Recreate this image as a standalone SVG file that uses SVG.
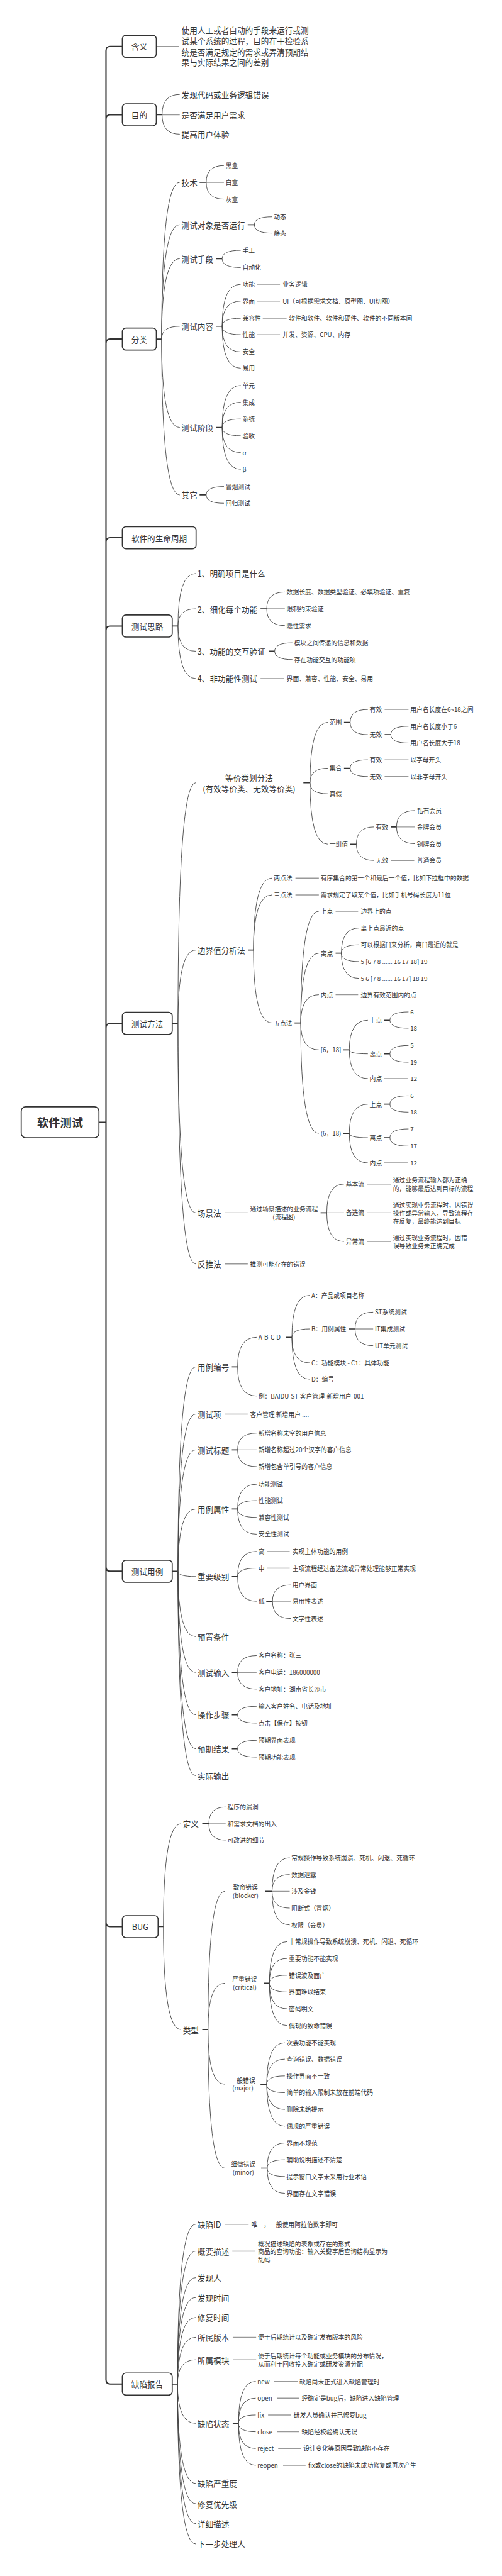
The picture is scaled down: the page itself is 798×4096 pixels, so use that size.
<svg xmlns="http://www.w3.org/2000/svg" width="798" height="4096" viewBox="0 0 798 4096">
<style>
.a{font-family:"Noto Sans CJK SC","Liberation Sans",sans-serif;fill:#333;dominant-baseline:central}
.f18{font-size:18px}
.f14{font-size:14px}
.m{text-anchor:middle}
.tr{fill:none;stroke:#333;stroke-width:3;stroke-linecap:round}
.st{stroke:#333;stroke-width:2.4}
.cv{fill:none;stroke:#444;stroke-width:1.3}
.gl{stroke:#999;stroke-width:2}
.bx{fill:#fff;stroke:#333;stroke-width:2.4}
</style>
<rect width="798" height="4096" fill="#fff"/>
<g transform="scale(0.702)">
<g id="connectors">
<path class="tr" d="M222 2542H240M240 2542V115Q240 105 250 105H277M240 2542V270Q240 260 250 260H277M240 2542V778Q240 768 250 768H277M240 2542V1228Q240 1218 250 1218H277M240 2542V1428Q240 1418 250 1418H277M240 2542V2328Q240 2318 250 2318H277M240 2542V3549Q240 3559 250 3559H277M240 2542V4354Q240 4364 250 4364H277M240 2542V5390Q240 5400 250 5400H277"/>
<path class="st" d="M354 260H367M354 768H366M452 413H467M561 509H576M490 586H503M490 739H503M490 968H503M452 1121H467M390 1418H403M590 1379H604M609 1475H622M390 2318H403M687 1773H702M779 1636H793M871 1664H885M779 1740H793M793 1912H807M885 1873H898M562 2152H574M667 2317H681M760 2159H773M777 2378H791M869 2311H883M869 2387H883M777 2567H791M869 2501H883M869 2577H883M726 2747H740M390 3559H403M525 3096H538M647 3029H661M790 3010H804M525 3284H538M525 3418H538M525 3571H538M603 3627H617M525 3788H538M525 3884H538M525 3961H538M358 4364H370M458 4131H473M458 4597H471M601 4284H616M597 4492H610M590 4721H604M591 4911H605M390 5400H402M527 5489H540"/>
<path class="gl" d="M354 105H406M367 260H407M467 413H507M582 644H634M582 682H634M595 721H649M582 758H634M604 1379H645M590 1537H643M871 1607H925M871 1721H925M871 1759H925M898 1873H940M886 1949H938M669 1989H722M669 2027H722M760 2064H811M760 2253H811M869 2443H923M869 2634H923M509 2747H561M740 2747H779M831 2682H885M831 2747H885M831 2812H885M509 2863H561M804 3010H845M509 3203H561M538 3284H581M604 3514H656M604 3552H656M617 3627H658M538 3788H581M473 4131H511M616 4284H656M510 5038H563M526 5099H578M527 5294H580M527 5345H580M620 5394H674M627 5432H678M607 5470H659M627 5508H678M630 5546H681M641 5584H692"/>
<path class="cv" d="M367 260Q367 214 407 214M367 260Q367 304 407 304
M366 768Q366 413 407 413M366 768Q366 509 407 509M366 768Q366 586 407 586M366 768Q366 739 407 739M366 768Q366 968 407 968M366 768Q366 1121 407 1121
M467 413Q467 375 507 375M467 413Q467 451 507 451
M576 509Q576 491 616 491M576 509Q576 528 616 528
M503 586Q503 567 545 567M503 586Q503 606 545 606
M503 739Q503 644 545 644M503 739Q503 682 545 682M503 739Q503 721 545 721M503 739Q503 758 545 758M503 739Q503 797 545 797M503 739Q503 834 545 834
M503 968Q503 873 545 873M503 968Q503 911 545 911M503 968Q503 949 545 949M503 968Q503 987 545 987M503 968Q503 1025 545 1025M503 968Q503 1063 545 1063
M467 1121Q467 1102 507 1102M467 1121Q467 1140 507 1140
M403 1418Q403 1299 443 1299M403 1418Q403 1379 443 1379M403 1418Q403 1475 443 1475M403 1418Q403 1537 443 1537
M604 1379Q604 1341 645 1341M604 1379Q604 1417 645 1417
M622 1475Q622 1456 662 1456M622 1475Q622 1494 662 1494
M403 2318Q403 1773 443 1773M403 2318Q403 2152 443 2152M403 2318Q403 2747 443 2747M403 2318Q403 2863 443 2863
M702 1773Q702 1636 742 1636M702 1773Q702 1740 742 1740M702 1773Q702 1798 742 1798M702 1773Q702 1912 742 1912
M793 1636Q793 1607 833 1607M793 1636Q793 1664 833 1664
M885 1664Q885 1645 925 1645M885 1664Q885 1683 925 1683
M793 1740Q793 1721 833 1721M793 1740Q793 1759 833 1759
M807 1912Q807 1873 847 1873M807 1912Q807 1949 847 1949
M898 1873Q898 1836 940 1836M898 1873Q898 1911 940 1911
M574 2152Q574 1989 616 1989M574 2152Q574 2027 616 2027M574 2152Q574 2317 616 2317
M681 2317Q681 2064 722 2064M681 2317Q681 2159 722 2159M681 2317Q681 2253 722 2253M681 2317Q681 2378 722 2378M681 2317Q681 2567 722 2567
M773 2159Q773 2102 813 2102M773 2159Q773 2140 813 2140M773 2159Q773 2178 813 2178M773 2159Q773 2216 813 2216
M791 2378Q791 2311 833 2311M791 2378Q791 2387 833 2387M791 2378Q791 2443 833 2443
M883 2311Q883 2292 925 2292M883 2311Q883 2329 925 2329M883 2387Q883 2368 925 2368M883 2387Q883 2406 925 2406
M791 2567Q791 2501 833 2501M791 2567Q791 2577 833 2577M791 2567Q791 2634 833 2634
M883 2501Q883 2482 925 2482M883 2501Q883 2519 925 2519M883 2577Q883 2557 925 2557M883 2577Q883 2596 925 2596
M740 2747Q740 2682 779 2682M740 2747Q740 2812 779 2812
M403 3559Q403 3096 443 3096M403 3559Q403 3203 443 3203M403 3559Q403 3284 443 3284M403 3559Q403 3418 443 3418M403 3559Q403 3571 443 3571M403 3559Q403 3707 443 3707M403 3559Q403 3788 443 3788M403 3559Q403 3884 443 3884M403 3559Q403 3961 443 3961M403 3559Q403 4022 443 4022
M538 3096Q538 3029 581 3029M538 3096Q538 3162 581 3162
M661 3029Q661 2934 701 2934M661 3029Q661 3010 701 3010M661 3029Q661 3087 701 3087M661 3029Q661 3124 701 3124
M804 3010Q804 2972 845 2972M804 3010Q804 3048 845 3048
M538 3284Q538 3246 581 3246M538 3284Q538 3322 581 3322
M538 3418Q538 3362 581 3362M538 3418Q538 3399 581 3399M538 3418Q538 3437 581 3437M538 3418Q538 3475 581 3475
M538 3571Q538 3514 581 3514M538 3571Q538 3552 581 3552M538 3571Q538 3627 581 3627
M617 3627Q617 3590 658 3590M617 3627Q617 3666 658 3666
M538 3788Q538 3750 581 3750M538 3788Q538 3826 581 3826
M538 3884Q538 3865 581 3865M538 3884Q538 3903 581 3903
M538 3961Q538 3942 581 3942M538 3961Q538 3980 581 3980
M370 4364Q370 4131 410 4131M370 4364Q370 4597 410 4597
M473 4131Q473 4093 511 4093M473 4131Q473 4168 511 4168
M471 4597Q471 4284 509 4284M471 4597Q471 4492 509 4492M471 4597Q471 4721 509 4721M471 4597Q471 4911 509 4911
M616 4284Q616 4208 656 4208M616 4284Q616 4246 656 4246M616 4284Q616 4322 656 4322M616 4284Q616 4360 656 4360
M610 4492Q610 4398 650 4398M610 4492Q610 4436 650 4436M610 4492Q610 4474 650 4474M610 4492Q610 4512 650 4512M610 4492Q610 4550 650 4550M610 4492Q610 4588 650 4588
M604 4721Q604 4627 645 4627M604 4721Q604 4664 645 4664M604 4721Q604 4702 645 4702M604 4721Q604 4740 645 4740M604 4721Q604 4778 645 4778M604 4721Q604 4816 645 4816
M605 4911Q605 4854 645 4854M605 4911Q605 4892 645 4892M605 4911Q605 4930 645 4930M605 4911Q605 4968 645 4968
M402 5400Q402 5038 443 5038M402 5400Q402 5099 443 5099M402 5400Q402 5159 443 5159M402 5400Q402 5204 443 5204M402 5400Q402 5249 443 5249M402 5400Q402 5294 443 5294M402 5400Q402 5345 443 5345M402 5400Q402 5489 443 5489M402 5400Q402 5625 443 5625M402 5400Q402 5671 443 5671M402 5400Q402 5716 443 5716M402 5400Q402 5762 443 5762
M540 5489Q540 5394 579 5394M540 5489Q540 5432 579 5432M540 5489Q540 5470 579 5470M540 5489Q540 5508 579 5508M540 5489Q540 5546 579 5546M540 5489Q540 5584 579 5584"/>
</g>
<g id="root"><rect class="bx" x="48" y="2507" width="176" height="70" rx="10" stroke-width="3"/><text class="a m" x="136" y="2542" font-size="26" font-weight="bold">软件测试</text></g>
<g id="n-hanyi"><rect class="bx" x="277" y="80" width="77" height="50" rx="8"/><text class="a m f18" x="315.5" y="105">含义</text></g>
<g id="n-hanyi-1"><text class="a f18" x="411" y="68">使用人工或者自动的手段来运行或测</text><text class="a f18" x="411" y="92">试某个系统的过程，目的在于检验系</text><text class="a f18" x="411" y="117">统是否满足规定的需求或弄清预期结</text><text class="a f18" x="411" y="140">果与实际结果之间的差别</text></g>
<g id="n-mudi"><rect class="bx" x="277" y="235" width="77" height="50" rx="8"/><text class="a m f18" x="315.5" y="260">目的</text></g>
<g id="n-mudi-c"><text class="a f18" x="411" y="214">发现代码或业务逻辑错误</text><text class="a f18" x="411" y="260">是否满足用户需求</text><text class="a f18" x="411" y="304">提高用户体验</text></g>
<g id="n-fenlei"><rect class="bx" x="277" y="743" width="77" height="50" rx="8"/><text class="a m f18" x="315.5" y="768">分类</text></g>
<g id="n-fenlei-c"><text class="a f18" x="411" y="413">技术</text><text class="a f18" x="411" y="509">测试对象是否运行</text><text class="a f18" x="411" y="586">测试手段</text><text class="a f18" x="411" y="739">测试内容</text><text class="a f18" x="411" y="968">测试阶段</text><text class="a f18" x="411" y="1121">其它</text></g>
<g id="n-jishu-c"><text class="a f14" x="511" y="375">黑盒</text><text class="a f14" x="511" y="413">白盒</text><text class="a f14" x="511" y="451">灰盒</text></g>
<g id="n-duixiang-c"><text class="a f14" x="620" y="491">动态</text><text class="a f14" x="620" y="528">静态</text></g>
<g id="n-shouduan-c"><text class="a f14" x="549" y="567">手工</text><text class="a f14" x="549" y="606">自动化</text></g>
<g id="n-neirong-c"><text class="a f14" x="549" y="644">功能</text><text class="a f14" x="640" y="644">业务逻辑</text><text class="a f14" x="549" y="682">界面</text><text class="a f14" x="640" y="682">UI（可根据需求文档、原型图、UI切图）</text><text class="a f14" x="549" y="721">兼容性</text><text class="a f14" x="654" y="721">软件和软件、软件和硬件、软件的不同版本间</text><text class="a f14" x="549" y="758">性能</text><text class="a f14" x="640" y="758">并发、资源、CPU、内存</text><text class="a f14" x="549" y="797">安全</text><text class="a f14" x="549" y="834">易用</text></g>
<g id="n-jieduan-c"><text class="a f14" x="549" y="873">单元</text><text class="a f14" x="549" y="911">集成</text><text class="a f14" x="549" y="949">系统</text><text class="a f14" x="549" y="987">验收</text><text class="a f14" x="549" y="1025">α</text><text class="a f14" x="549" y="1063">β</text></g>
<g id="n-qita-c"><text class="a f14" x="511" y="1102">冒烟测试</text><text class="a f14" x="511" y="1140">回归测试</text></g>
<g id="n-smzq"><rect class="bx" x="277" y="1193" width="167" height="50" rx="8"/><text class="a m f18" x="360.5" y="1218">软件的生命周期</text></g>
<g id="n-silu"><rect class="bx" x="277" y="1393" width="113" height="50" rx="8"/><text class="a m f18" x="333.5" y="1418">测试思路</text></g>
<g id="n-silu-c"><text class="a f18" x="447" y="1299">1、明确项目是什么</text><text class="a f18" x="447" y="1379">2、细化每个功能</text><text class="a f18" x="447" y="1475">3、功能的交互验证</text><text class="a f18" x="447" y="1537">4、非功能性测试</text></g>
<g id="n-silu-cc"><text class="a f14" x="649" y="1341">数据长度、数据类型验证、必填项验证、重复</text><text class="a f14" x="649" y="1379">限制约束验证</text><text class="a f14" x="649" y="1417">隐性需求</text><text class="a f14" x="666" y="1456">模块之间传递的信息和数据</text><text class="a f14" x="666" y="1494">存在功能交互的功能项</text><text class="a f14" x="649" y="1537">界面、兼容、性能、安全、易用</text></g>
<g id="n-fangfa"><rect class="bx" x="277" y="2293" width="113" height="50" rx="8"/><text class="a m f18" x="333.5" y="2318">测试方法</text></g>
<g id="n-dengjia"><text class="a m f18" x="564" y="1761">等价类划分法</text><text class="a m f18" x="564" y="1785">(有效等价类、无效等价类)</text></g>
<g id="n-dengjia-c"><text class="a f14" x="746" y="1636">范围</text><text class="a f14" x="746" y="1740">集合</text><text class="a f14" x="746" y="1798">真假</text><text class="a f14" x="746" y="1912">一组值</text>
<text class="a f14" x="837" y="1607">有效</text><text class="a f14" x="929" y="1607">用户名长度在6~18之间</text><text class="a f14" x="837" y="1664">无效</text><text class="a f14" x="929" y="1645">用户名长度小于6</text><text class="a f14" x="929" y="1683">用户名长度大于18</text>
<text class="a f14" x="837" y="1721">有效</text><text class="a f14" x="929" y="1721">以字母开头</text><text class="a f14" x="837" y="1759">无效</text><text class="a f14" x="929" y="1759">以非字母开头</text>
<text class="a f14" x="851" y="1873">有效</text><text class="a f14" x="944" y="1836">钻石会员</text><text class="a f14" x="944" y="1873">金牌会员</text><text class="a f14" x="944" y="1911">铜牌会员</text><text class="a f14" x="851" y="1949">无效</text><text class="a f14" x="944" y="1949">普通会员</text></g>
<g id="n-bianjie"><text class="a f18" x="447" y="2152">边界值分析法</text></g>
<g id="n-bianjie-c"><text class="a f14" x="620" y="1989">两点法</text><text class="a f14" x="726" y="1989">有序集合的第一个和最后一个值，比如下拉框中的数据</text><text class="a f14" x="620" y="2027">三点法</text><text class="a f14" x="726" y="2027">需求规定了取某个值，比如手机号码长度为11位</text><text class="a f14" x="620" y="2317">五点法</text>
<text class="a f14" x="726" y="2064">上点</text><text class="a f14" x="817" y="2064">边界上的点</text><text class="a f14" x="726" y="2159">离点</text><text class="a f14" x="817" y="2102">离上点最近的点</text><text class="a f14" x="817" y="2140">可以根据[ ]来分析，离[ ]最近的就是</text><text class="a f14" x="817" y="2178">5 [6 7 8 ...... 16 17 18] 19</text><text class="a f14" x="817" y="2216">5 6 [7 8 ...... 16 17] 18 19</text><text class="a f14" x="726" y="2253">内点</text><text class="a f14" x="817" y="2253">边界有效范围内的点</text>
<text class="a f14" x="726" y="2378">[6，18]</text><text class="a f14" x="837" y="2311">上点</text><text class="a f14" x="929" y="2292">6</text><text class="a f14" x="929" y="2329">18</text><text class="a f14" x="837" y="2387">离点</text><text class="a f14" x="929" y="2368">5</text><text class="a f14" x="929" y="2406">19</text><text class="a f14" x="837" y="2443">内点</text><text class="a f14" x="929" y="2443">12</text>
<text class="a f14" x="726" y="2567">(6，18)</text><text class="a f14" x="837" y="2501">上点</text><text class="a f14" x="929" y="2482">6</text><text class="a f14" x="929" y="2519">18</text><text class="a f14" x="837" y="2577">离点</text><text class="a f14" x="929" y="2557">7</text><text class="a f14" x="929" y="2596">17</text><text class="a f14" x="837" y="2634">内点</text><text class="a f14" x="929" y="2634">12</text></g>
<g id="n-changjing"><text class="a f18" x="447" y="2747">场景法</text><text class="a m f14" x="643" y="2738">通过场景描述的业务流程</text><text class="a m f14" x="643" y="2757">(流程图)</text></g>
<g id="n-changjing-c"><text class="a f14" x="783" y="2682">基本流</text><text class="a f14" x="890" y="2673">通过业务流程输入都为正确</text><text class="a f14" x="890" y="2692">的，能够最后达到目标的流程</text>
<text class="a f14" x="783" y="2747">备选流</text><text class="a f14" x="890" y="2730">通过实现业务流程时，因错误</text><text class="a f14" x="890" y="2748">操作或异常输入，导致流程存</text><text class="a f14" x="890" y="2766">在反复，最终能达到目标</text>
<text class="a f14" x="783" y="2812">异常流</text><text class="a f14" x="890" y="2803">通过实现业务流程时，因错</text><text class="a f14" x="890" y="2822">误导致业务未正确完成</text></g>
<g id="n-fantui"><text class="a f18" x="447" y="2863">反推法</text><text class="a f14" x="566" y="2863">推测可能存在的错误</text></g>
<g id="n-yongli"><rect class="bx" x="277" y="3534" width="113" height="50" rx="8"/><text class="a m f18" x="333.5" y="3559">测试用例</text></g>
<g id="n-yongli-c"><text class="a f18" x="447" y="3096">用例编号</text><text class="a f18" x="447" y="3203">测试项</text><text class="a f18" x="447" y="3284">测试标题</text><text class="a f18" x="447" y="3418">用例属性</text><text class="a f18" x="447" y="3571">重要级别</text><text class="a f18" x="447" y="3707">预置条件</text><text class="a f18" x="447" y="3788">测试输入</text><text class="a f18" x="447" y="3884">操作步骤</text><text class="a f18" x="447" y="3961">预期结果</text><text class="a f18" x="447" y="4022">实际输出</text></g>
<g id="n-bianhao-c"><text class="a f14" x="585" y="3029">A-B-C-D</text><text class="a f14" x="585" y="3162">例：BAIDU-ST-客户管理-新增用户-001</text><text class="a f14" x="705" y="2934">A：产品或项目名称</text><text class="a f14" x="705" y="3010">B：用例属性</text><text class="a f14" x="705" y="3087">C：功能模块 - C1：具体功能</text><text class="a f14" x="705" y="3124">D：编号</text><text class="a f14" x="849" y="2972">ST系统测试</text><text class="a f14" x="849" y="3010">IT集成测试</text><text class="a f14" x="849" y="3048">UT单元测试</text></g>
<g id="n-ceshixiang-c"><text class="a f14" x="566" y="3203">客户管理 新增用户 ....</text></g>
<g id="n-biaoti-c"><text class="a f14" x="585" y="3246">新增名称未空的用户信息</text><text class="a f14" x="585" y="3284">新增名称超过20个汉字的客户信息</text><text class="a f14" x="585" y="3322">新增包含单引号的客户信息</text></g>
<g id="n-shuxing-c"><text class="a f14" x="585" y="3362">功能测试</text><text class="a f14" x="585" y="3399">性能测试</text><text class="a f14" x="585" y="3437">兼容性测试</text><text class="a f14" x="585" y="3475">安全性测试</text></g>
<g id="n-jibie-c"><text class="a f14" x="585" y="3514">高</text><text class="a f14" x="662" y="3514">实现主体功能的用例</text><text class="a f14" x="585" y="3552">中</text><text class="a f14" x="662" y="3552">主项流程经过备选流或异常处理能够正常实现</text><text class="a f14" x="585" y="3627">低</text><text class="a f14" x="662" y="3590">用户界面</text><text class="a f14" x="662" y="3627">易用性表述</text><text class="a f14" x="662" y="3666">文字性表述</text></g>
<g id="n-shuru-c"><text class="a f14" x="585" y="3750">客户名称：张三</text><text class="a f14" x="585" y="3788">客户电话：186000000</text><text class="a f14" x="585" y="3826">客户地址：湖南省长沙市</text></g>
<g id="n-buzhou-c"><text class="a f14" x="585" y="3865">输入客户姓名、电话及地址</text><text class="a f14" x="585" y="3903">点击【保存】按钮</text></g>
<g id="n-yuqi-c"><text class="a f14" x="585" y="3942">预期界面表现</text><text class="a f14" x="585" y="3980">预期功能表现</text></g>
<g id="n-bug"><rect class="bx" x="277" y="4339" width="81" height="50" rx="8"/><text class="a m f18" x="317.5" y="4364" font-family="Liberation Sans,sans-serif">BUG</text></g>
<g id="n-bug-c"><text class="a f18" x="414" y="4131">定义</text><text class="a f18" x="414" y="4597">类型</text></g>
<g id="n-dingyi-c"><text class="a f14" x="515" y="4093">程序的漏洞</text><text class="a f14" x="515" y="4131">和需求文档的出入</text><text class="a f14" x="515" y="4168">可改进的细节</text></g>
<g id="n-leixing-c"><text class="a m f14" x="556" y="4275">致命错误</text><text class="a m f14" x="556" y="4293">(blocker)</text><text class="a m f14" x="554" y="4483">严重错误</text><text class="a m f14" x="554" y="4502">(critical)</text><text class="a m f14" x="550" y="4712">一般错误</text><text class="a m f14" x="550" y="4730">(major)</text><text class="a m f14" x="551" y="4902">细微错误</text><text class="a m f14" x="551" y="4920">(minor)</text></g>
<g id="n-zhiming-c"><text class="a f14" x="660" y="4208">常规操作导致系统崩溃、死机、闪退、死循环</text><text class="a f14" x="660" y="4246">数据泄露</text><text class="a f14" x="660" y="4284">涉及金钱</text><text class="a f14" x="660" y="4322">阻断式（冒烟）</text><text class="a f14" x="660" y="4360">权限（会员）</text></g>
<g id="n-yanzhong-c"><text class="a f14" x="654" y="4398">非常规操作导致系统崩溃、死机、闪退、死循环</text><text class="a f14" x="654" y="4436">重要功能不能实现</text><text class="a f14" x="654" y="4474">错误波及面广</text><text class="a f14" x="654" y="4512">界面难以结束</text><text class="a f14" x="654" y="4550">密码明文</text><text class="a f14" x="654" y="4588">偶现的致命错误</text></g>
<g id="n-yiban-c"><text class="a f14" x="649" y="4627">次要功能不能实现</text><text class="a f14" x="649" y="4664">查询错误、数据错误</text><text class="a f14" x="649" y="4702">操作界面不一致</text><text class="a f14" x="649" y="4740">简单的输入限制未放在前端代码</text><text class="a f14" x="649" y="4778">删除未给提示</text><text class="a f14" x="649" y="4816">偶现的严重错误</text></g>
<g id="n-ximei-c"><text class="a f14" x="649" y="4854">界面不规范</text><text class="a f14" x="649" y="4892">辅助说明描述不清楚</text><text class="a f14" x="649" y="4930">提示窗口文字未采用行业术语</text><text class="a f14" x="649" y="4968">界面存在文字错误</text></g>
<g id="n-baogao"><rect class="bx" x="277" y="5375" width="113" height="50" rx="8"/><text class="a m f18" x="333.5" y="5400">缺陷报告</text></g>
<g id="n-baogao-c"><text class="a f18" x="447" y="5038">缺陷ID</text><text class="a f18" x="447" y="5099">概要描述</text><text class="a f18" x="447" y="5159">发现人</text><text class="a f18" x="447" y="5204">发现时间</text><text class="a f18" x="447" y="5249">修复时间</text><text class="a f18" x="447" y="5294">所属版本</text><text class="a f18" x="447" y="5345">所属模块</text><text class="a f18" x="447" y="5489">缺陷状态</text><text class="a f18" x="447" y="5625">缺陷严重度</text><text class="a f18" x="447" y="5671">修复优先级</text><text class="a f18" x="447" y="5716">详细描述</text><text class="a f18" x="447" y="5762">下一步处理人</text></g>
<g id="n-baogao-cc"><text class="a f14" x="569" y="5038">唯一，一般使用阿拉伯数字即可</text><text class="a f14" x="584" y="5082">概况描述缺陷的表象或存在的形式</text><text class="a f14" x="584" y="5100">商品的查询功能：输入关键字后查询结构显示为</text><text class="a f14" x="584" y="5118">乱码</text><text class="a f14" x="584" y="5294">便于后期统计以及确定发布版本的风险</text><text class="a f14" x="584" y="5336">便于后期统计每个功能或业务模块的分布情况，</text><text class="a f14" x="584" y="5355">从而利于回收投入确定或研发资源分配</text></g>
<g id="n-zhuangtai-c"><text class="a f14" x="583" y="5394">new</text><text class="a f14" x="678" y="5394">缺陷尚未正式进入缺陷管理时</text><text class="a f14" x="583" y="5432">open</text><text class="a f14" x="683" y="5432">经确定是bug后，缺陷进入缺陷管理</text><text class="a f14" x="583" y="5470">fix</text><text class="a f14" x="665" y="5470">研发人员确认并已修复bug</text><text class="a f14" x="583" y="5508">close</text><text class="a f14" x="683" y="5508">缺陷经校验确认无误</text><text class="a f14" x="583" y="5546">reject</text><text class="a f14" x="687" y="5546">设计变化等原因导致缺陷不存在</text><text class="a f14" x="583" y="5584">reopen</text><text class="a f14" x="698" y="5584">fix或close的缺陷未成功修复或再次产生</text></g>
</g>
</svg>
